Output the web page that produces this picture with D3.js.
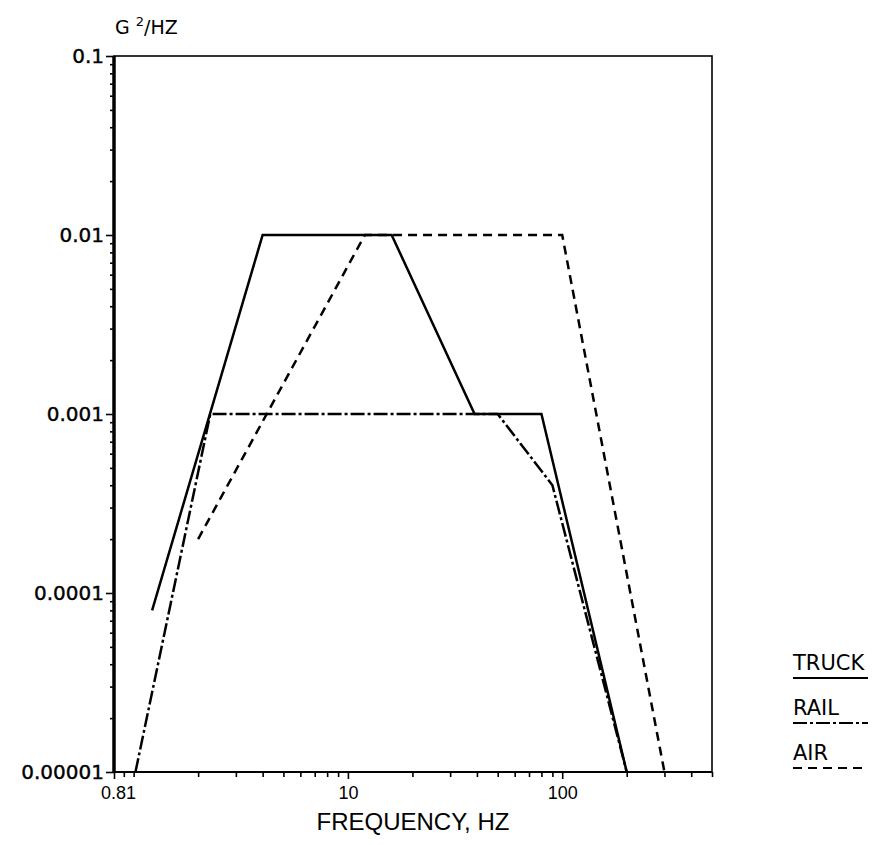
<!DOCTYPE html>
<html>
<head>
<meta charset="utf-8">
<script src="https://cdn.jsdelivr.net/npm/d3@7"></script>
<style>
  body { margin: 0; background: #fff; }
  svg { display: block; }
</style>
</head>
<body>
<svg class="canvas" width="878" height="845"></svg>
<script>
// values
const truckFreq = [1.22, 4, 16, 39, 80, 200];
const truckPsd = [0.00008, 0.01, 0.01, 0.001, 0.001, 0.00001];
const railFreq = [1.02, 2.28, 50, 90, 200];
const railPsd = [0.00001, 0.001, 0.001, 0.0004, 0.00001];
const airFreq = [2, 12, 100, 300];
const airPsd = [0.0002, 0.01, 0.01, 0.00001];

const yTickValues = [0.1, 0.01, 0.001, 0.0001, 0.00001];
const yTickLabels = ["0.1", "0.01", "0.001", "0.0001", "0.00001"];
const xTickValues = [0.81, 10, 100];
const xTickLabels = ["0.81", "10", "100"];
const legendNames = ["TRUCK", "RAIL", "AIR"];

const svg = d3.select(".canvas");
const margin = { top: 56, left: 114, right: 166, bottom: 73 };
const width = 878 - margin.left - margin.right;
const height = 845 - margin.top - margin.bottom;

const graph = svg.append("g")
  .attr("transform", `translate(${margin.left}, ${margin.top})`);

const x = d3.scaleLog().domain([0.81, 500]).range([0, width]);
const y = d3.scaleLog().domain([0.00001, 0.1]).range([height, 0]);

// minor ticks for every 1..9 step of each decade
const xMinor = [];
[0.1, 1, 10, 100].forEach((d) => {
  for (let k = 1; k < 10; k++) {
    const v = d * k;
    if (v >= 0.81 && v <= 500 && k !== 1) xMinor.push(v);
    else if (k === 1 && v >= 1 && v <= 500 && v !== 10 && v !== 100) xMinor.push(v);
  }
});
const yMinor = [];
[0.00001, 0.0001, 0.001, 0.01].forEach((d) => {
  for (let k = 2; k < 10; k++) yMinor.push(d * k);
});

const xAxis = d3.axisBottom(x).tickValues(xMinor).tickSize(5).tickFormat("");
const xAxisMajor = d3.axisBottom(x).tickValues(xTickValues).tickSize(7)
  .tickFormat((d, i) => xTickLabels[i]);
const yAxis = d3.axisLeft(y).tickValues(yMinor).tickSize(4).tickFormat("");
const yAxisMajor = d3.axisLeft(y).tickValues(yTickValues).tickSize(8)
  .tickFormat((d, i) => yTickLabels[i]);

const xg = graph.append("g").attr("transform", `translate(0,${height})`).call(xAxis);
const xgMajor = graph.append("g").attr("transform", `translate(0,${height})`).call(xAxisMajor);
const yg = graph.append("g").call(yAxis);
const ygMajor = graph.append("g").call(yAxisMajor);

[xg, xgMajor, yg, ygMajor].forEach((g) => {
  g.select(".domain").remove();
  g.selectAll("line").attr("stroke", "#000").attr("stroke-width", 1.6);
});

xgMajor.selectAll("text")
  .attr("font-family", "Liberation Sans, Arial, sans-serif")
  .attr("font-size", 18)
  .attr("fill", "#000")
  .attr("dy", "0.95em")
  .attr("dx", (d, i) => (i === 0 ? 4 : 0));
ygMajor.selectAll("text")
  .attr("font-family", "DejaVu Sans, sans-serif")
  .attr("font-size", 20)
  .attr("fill", "#000")
  .attr("stroke", "#000")
  .attr("stroke-width", 0.4)
  .attr("x", -10);

// frame
graph.append("rect")
  .attr("width", width).attr("height", height)
  .attr("fill", "none").attr("stroke", "#000").attr("stroke-width", 1.6);
graph.append("line")
  .attr("x1", 0).attr("x2", 0).attr("y1", 0).attr("y2", height)
  .attr("stroke", "#000").attr("stroke-width", 3.5);
graph.append("line")
  .attr("x1", 0).attr("x2", width).attr("y1", height).attr("y2", height)
  .attr("stroke", "#000").attr("stroke-width", 2.2);

// series
const series = [
  { name: "TRUCK", f: truckFreq, p: truckPsd, dash: null },
  { name: "RAIL", f: railFreq, p: railPsd, dash: "14,3,3,3" },
  { name: "AIR", f: airFreq, p: airPsd, dash: "9,6" },
];

const line = d3.line().x((d) => x(d[0])).y((d) => y(d[1]));

graph.selectAll("path.series")
  .data(series)
  .enter()
  .append("path")
  .attr("class", "series")
  .attr("d", (s) => line(s.f.map((f, i) => [f, s.p[i]])))
  .attr("fill", "none")
  .attr("stroke", "#000")
  .attr("stroke-width", 2.5)
  .attr("stroke-dasharray", (s) => s.dash);

// axis titles
svg.append("text")
  .attr("x", 413).attr("y", 830)
  .attr("text-anchor", "middle")
  .attr("font-family", "Liberation Sans, Arial, sans-serif")
  .attr("font-size", 24)
  .text("FREQUENCY, HZ");

const yTitle = svg.append("text")
  .attr("x", 115).attr("y", 34)
  .attr("font-family", "DejaVu Sans, sans-serif")
  .attr("font-size", 19);
yTitle.append("tspan").text("G ");
yTitle.append("tspan").attr("dy", -8).attr("font-size", 13).text("2");
yTitle.append("tspan").attr("dy", 8).text("/HZ");

// legend
const legend = svg.append("g").attr("transform", "translate(793, 670)");
const items = legend.selectAll("g")
  .data(series)
  .enter()
  .append("g")
  .attr("transform", (d, i) => `translate(0, ${i * 45})`);
items.append("text")
  .attr("font-family", "DejaVu Sans, sans-serif")
  .attr("font-size", 21)
  .text((d, i) => legendNames[i]);
items.append("line")
  .attr("x1", 0).attr("x2", 75).attr("y1", 8).attr("y2", 8)
  .attr("stroke", "#000").attr("stroke-width", 2.2)
  .attr("stroke-dasharray", (d) => d.dash);
</script>
</body>
</html>
